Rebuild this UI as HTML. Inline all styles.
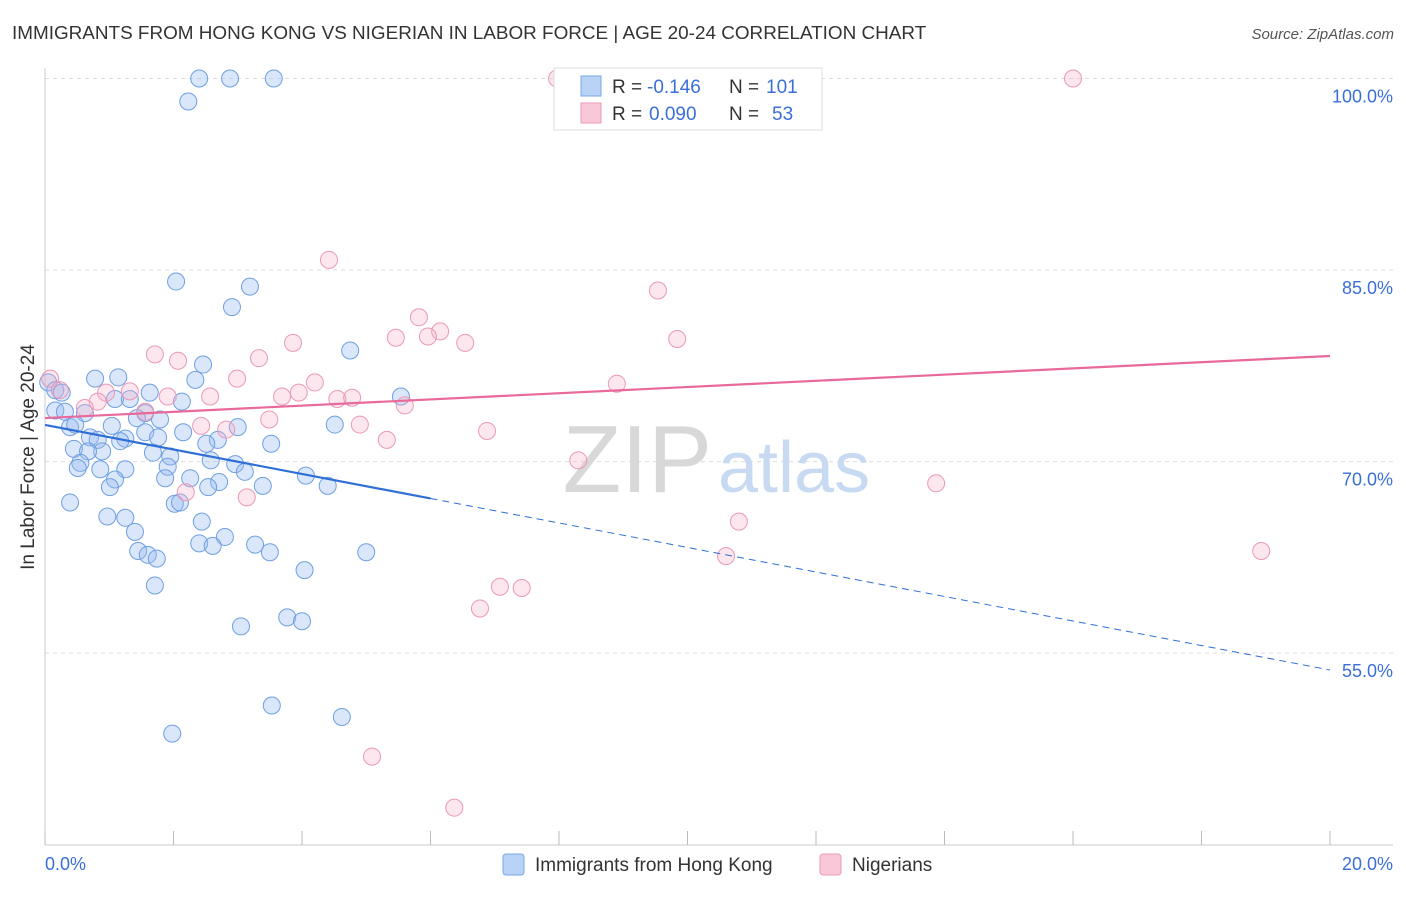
<!DOCTYPE html>
<html><head><meta charset="utf-8"><style>
body{margin:0;background:#fff;font-family:"Liberation Sans",sans-serif;}
svg text{font-family:"Liberation Sans",sans-serif;}
</style></head><body>
<svg id="chart" width="1406" height="892">
<text x="12" y="39" font-size="18.9" fill="#333">IMMIGRANTS FROM HONG KONG VS NIGERIAN IN LABOR FORCE | AGE 20-24 CORRELATION CHART</text>
<text x="1394" y="39" font-size="15" fill="#555" font-style="italic" text-anchor="end">Source: ZipAtlas.com</text>
<g id="grid"></g>
<text x="712" y="492" font-size="96" fill="#d8d8d8" text-anchor="end" font-family="Liberation Serif">ZIP</text>
<text x="718" y="492" font-size="72" fill="#c8daf2">atlas</text>
<text transform="translate(34,457) rotate(-90)" font-size="19" fill="#333" text-anchor="middle">In Labor Force | Age 20-24</text>
<g id="pts"></g>
<g id="lines"></g>
<g>
<rect x="554" y="68" width="268" height="62" fill="#fff" stroke="#ddd"/>
<rect x="581" y="76" width="20" height="20" fill="#b8d3f6" stroke="#7aa7e4"/>
<text x="612" y="93" font-size="19" fill="#333">R =</text>
<text x="647" y="93" font-size="19" fill="#3a6fd8">-0.146</text>
<text x="729" y="93" font-size="19" fill="#333">N =</text>
<text x="766" y="93" font-size="19" fill="#3a6fd8">101</text>
<rect x="581" y="103" width="20" height="20" fill="#f9c8d8" stroke="#ea9ab8"/>
<text x="612" y="120" font-size="19" fill="#333">R =</text>
<text x="649" y="120" font-size="19" fill="#3a6fd8">0.090</text>
<text x="729" y="120" font-size="19" fill="#333">N =</text>
<text x="772" y="120" font-size="19" fill="#3a6fd8">53</text>
</g>
<g>
<rect x="503" y="854" width="21" height="21" rx="3" fill="#b8d3f6" stroke="#7aa7e4"/>
<text x="535" y="871" font-size="19" fill="#333">Immigrants from Hong Kong</text>
<rect x="820" y="854" width="21" height="21" rx="3" fill="#f9c8d8" stroke="#ea9ab8"/>
<text x="852" y="871" font-size="19" fill="#333">Nigerians</text>
</g>
</svg>
<script>
const xTicks=[0,2,4,6,8,10,12,14,16,18,20];
const yTicks=[55,70,85,100];
const blueX=[2.40,2.88,3.56,2.23,2.04,3.19,2.91,4.75,2.46,2.34,1.14,0.78,0.05,0.16,0.26,1.63,5.54,1.09,1.32,2.13,0.16,0.31,0.62,1.56,1.43,1.79,0.39,1.04,0.47,4.51,3.00,1.56,2.15,0.70,0.82,1.25,1.17,1.76,2.69,2.51,3.52,0.45,0.89,0.67,1.68,1.95,2.58,0.55,0.51,0.86,1.25,1.91,2.96,3.11,4.06,1.87,2.26,1.09,2.71,2.54,3.39,1.01,4.40,0.39,2.02,2.10,0.97,1.25,2.44,1.40,2.80,2.40,2.61,3.27,1.45,1.60,1.74,3.50,5.00,4.04,1.71,3.77,4.00,3.05,3.53,4.62,1.98];
const blueY=[100,100,100,98.2,84.1,83.7,82.1,78.7,77.6,76.4,76.6,76.5,76.2,75.6,75.4,75.4,75.1,74.9,74.9,74.7,74.0,73.9,73.8,73.8,73.4,73.3,72.7,72.8,72.9,72.9,72.7,72.3,72.3,71.9,71.7,71.8,71.6,71.9,71.7,71.4,71.4,71.0,70.8,70.8,70.7,70.4,70.1,69.9,69.5,69.4,69.4,69.6,69.8,69.2,68.9,68.7,68.7,68.6,68.4,68.0,68.1,68.0,68.1,66.8,66.7,66.8,65.7,65.6,65.3,64.5,64.1,63.6,63.4,63.5,63.0,62.7,62.4,62.9,62.9,61.5,60.3,57.8,57.5,57.1,50.9,50.0,48.7];
const pinkX=[7.97,9.15,11.39,16.0,4.42,9.54,5.82,6.15,5.96,5.46,6.54,9.84,3.86,1.71,2.07,3.33,2.99,4.20,8.90,0.08,0.23,0.95,1.32,3.95,3.69,2.57,1.91,4.78,4.55,0.82,5.60,0.62,1.56,3.49,4.90,2.43,2.82,6.88,5.32,8.30,13.87,2.19,3.14,10.80,10.60,18.93,7.08,7.42,6.77,5.09,6.37];
const pinkY=[100,100,100,100,85.8,83.4,81.3,80.2,79.8,79.7,79.3,79.6,79.3,78.4,77.9,78.1,76.5,76.2,76.1,76.5,75.6,75.4,75.5,75.4,75.1,75.1,75.1,75.0,74.9,74.7,74.4,74.2,73.9,73.3,72.9,72.8,72.5,72.4,71.7,70.1,68.3,67.6,67.2,65.3,62.6,63.0,60.2,60.1,58.5,46.9,42.9];
const blueTrend=[72.87,53.68];
const blueSolidEnd=6;
const pinkTrend=[73.41,78.27];

const X=v=>45+v/20*1285;
const Y=v=>78.5+(100-v)*12.77;
const NS='http://www.w3.org/2000/svg';
function mk(tag,attrs,parent){const e=document.createElementNS(NS,tag);for(const k in attrs)e.setAttribute(k,attrs[k]);parent.appendChild(e);return e;}
const grid=document.getElementById('grid');
yTicks.forEach(t=>{
  const l=mk('line',{x1:45,x2:1393,y1:Y(t),y2:Y(t),stroke:'#ddd','stroke-dasharray':'4,4'},grid);
  
  
  const tx=mk('text',{x:1393,y:Y(t)+24,'font-size':18,fill:'#3a6fd8','text-anchor':'end'},grid);
  tx.textContent=t.toFixed(1)+'%';
  
  
});
mk('line',{x1:45,x2:45,y1:68,y2:845,stroke:'#ccc'},grid);
mk('line',{x1:45,x2:1393,y1:845,y2:845,stroke:'#ccc'},grid);
xTicks.forEach(t=>{
  const l=mk('line',{x1:X(t),x2:X(t),y1:831,y2:845,stroke:'#bbb'},grid);
  
  
});
[[0,'0.0%',45,'start'],[20,'20.0%',1393,'end']].forEach(d=>{
  const tx=mk('text',{x:d[2],y:870,'font-size':18,fill:'#3a6fd8','text-anchor':d[3]},grid);
  tx.textContent=d[1];
  
  
});
const pts=document.getElementById('pts');
blueX.forEach((v,i)=>{
  const c=mk('circle',{cx:X(v),cy:Y(blueY[i]),r:8.5,fill:'rgba(150,185,240,0.35)',stroke:'#6f9fe2','stroke-width':1},pts);
  
  
});
pinkX.forEach((v,i)=>{
  const c=mk('circle',{cx:X(v),cy:Y(pinkY[i]),r:8.5,fill:'rgba(245,175,200,0.3)',stroke:'#eb98b6','stroke-width':1},pts);
  
  
});
const lines=document.getElementById('lines');
const by=x=>blueTrend[0]+(blueTrend[1]-blueTrend[0])*x/20;
const b1=mk('line',{x1:X(0),y1:Y(by(0)),x2:X(blueSolidEnd),y2:Y(by(blueSolidEnd)),stroke:'#2f6fd6','stroke-width':2.2},lines);


const b2=mk('line',{x1:X(blueSolidEnd),y1:Y(by(blueSolidEnd)),x2:X(20),y2:Y(by(20)),stroke:'#2f6fd6','stroke-width':1,'stroke-dasharray':'7,5'},lines);


const p1=mk('line',{x1:X(0),y1:Y(pinkTrend[0]),x2:X(20),y2:Y(pinkTrend[1]),stroke:'#e8699a','stroke-width':2.2},lines);


</script>
</body></html>
